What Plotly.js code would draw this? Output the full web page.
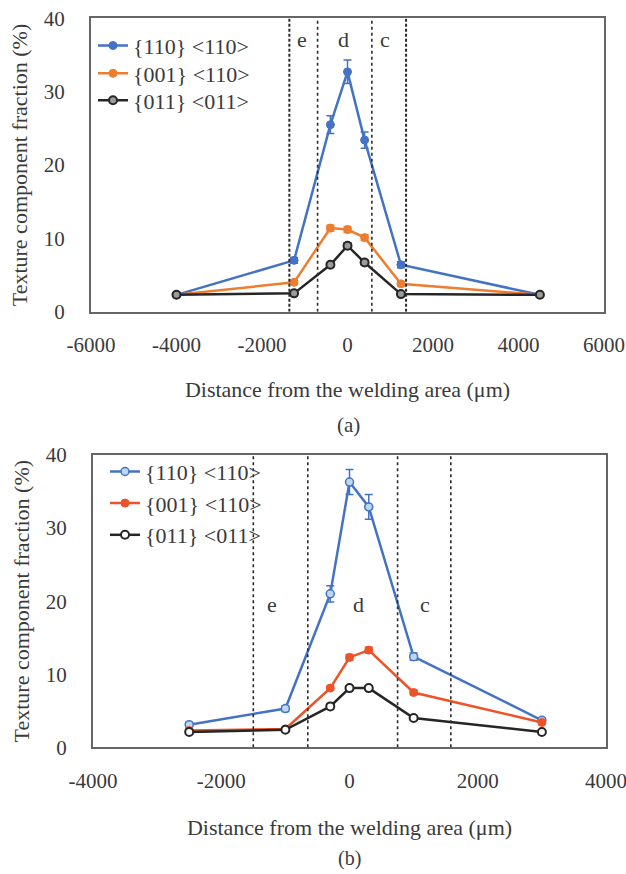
<!DOCTYPE html>
<html>
<head>
<meta charset="utf-8">
<script src="https://cdn.plot.ly/plotly-3.0.1.min.js"></script>
<style>html,body{margin:0;padding:0;background:#fff;}#chart{width:626px;height:874px;}</style>
</head>
<body>
<div id="chart"></div>
<script>
// ---- data: panel (a) ----
const xA = [-4000, -1250, -400, 0, 400, 1250, 4500];
const blueA = [2.3, 7.0, 25.5, 32.7, 23.4, 6.4, 2.3];
const blueErrA = [0.2, 0.4, 1.2, 1.6, 1.1, 0.4, 0.2];
const orangeA = [2.3, 4.0, 11.4, 11.2, 10.1, 3.8, 2.3];
const orangeErrA = [0.2, 0.3, 0.4, 0.4, 0.4, 0.3, 0.2];
const blackA = [2.3, 2.5, 6.4, 9.0, 6.7, 2.4, 2.3];
const blackErrA = [0.2, 0.2, 0.3, 0.4, 0.3, 0.2, 0.2];
const zoneLinesA = [-1360, -700, 570, 1370];
const zoneLabelsA = ["e", "d", "c"];
const zoneLabelXA = [-1070, -100, 880];
const zoneLabelYA = 37.1;

// ---- data: panel (b) ----
const xB = [-2500, -1000, -300, 0, 300, 1000, 3000];
const blueB = [3.1, 5.3, 21.0, 36.3, 32.9, 12.4, 3.7];
const blueErrB = [0.3, 0.4, 1.1, 1.7, 1.7, 0.5, 0.3];
const orangeB = [2.3, 2.5, 8.1, 12.3, 13.3, 7.5, 3.4];
const orangeErrB = [0.2, 0.2, 0.3, 0.4, 0.4, 0.3, 0.2];
const blackB = [2.1, 2.4, 5.6, 8.1, 8.1, 4.0, 2.1];
const blackErrB = [0.2, 0.2, 0.3, 0.3, 0.3, 0.2, 0.2];
const zoneLinesB = [-1500, -650, 750, 1580];
const zoneLabelsB = ["e", "d", "c"];
const zoneLabelXB = [-1210, 140, 1180];
const zoneLabelYB = 19.5;

const seriesNames = ["{110} <110>", "{001} <110>", "{011} <011>"];
const xTicksA = [-6000, -4000, -2000, 0, 2000, 4000, 6000];
const xTicksB = [-4000, -2000, 0, 2000, 4000];
const yTicks = [0, 10, 20, 30, 40];

const FONT = '"Liberation Serif", "Times New Roman", serif';
const TXT = '#3a3a3a';
const BLUE = '#4472C4', ORANGE = '#ED7D31', RED = '#EE5228', BLACK = '#262626';

function tr(x, y, err, name, color, marker, xa, ya, leg) {
  return {
    x: x, y: y, name: name, type: 'scatter', mode: 'lines+markers',
    xaxis: xa, yaxis: ya, legend: leg,
    line: {color: color, width: 2.5},
    marker: marker,
    error_y: {type: 'data', array: err, visible: true, color: color, thickness: 1.5, width: 4}
  };
}

const traces = [
  tr(xA, blueA, blueErrA, seriesNames[0], BLUE, {symbol: 'circle', size: 8, color: BLUE, line: {color: BLUE, width: 1}}, 'x', 'y', 'legend'),
  tr(xA, orangeA, orangeErrA, seriesNames[1], ORANGE, {symbol: 'circle', size: 8, color: ORANGE, line: {color: ORANGE, width: 1}}, 'x', 'y', 'legend2'),
  tr(xA, blackA, blackErrA, seriesNames[2], BLACK, {symbol: 'circle', size: 8, color: '#9a9a9a', line: {color: BLACK, width: 2}}, 'x', 'y', 'legend3'),
  tr(xB, blueB, blueErrB, seriesNames[0], BLUE, {symbol: 'circle', size: 8, color: '#BDD7EE', line: {color: BLUE, width: 1.5}}, 'x2', 'y2', 'legend4'),
  tr(xB, orangeB, orangeErrB, seriesNames[1], RED, {symbol: 'circle', size: 8, color: RED, line: {color: RED, width: 1}}, 'x2', 'y2', 'legend5'),
  tr(xB, blackB, blackErrB, seriesNames[2], BLACK, {symbol: 'circle', size: 8, color: '#ffffff', line: {color: BLACK, width: 2}}, 'x2', 'y2', 'legend6')
];

const W = 626, H = 874;
const px = v => v / W, py = v => 1 - v / H;

function xaxis(range, ticks, domain, standoff) {
  return {
    domain: domain, range: range, tickvals: ticks, ticktext: ticks.map(String),
    showgrid: false, zeroline: false, ticks: '', showline: true, mirror: true,
    linecolor: '#666666', linewidth: 2, ticklabeloverflow: 'allow',
    tickfont: {family: FONT, size: 21, color: TXT}, ticklabelstandoff: 13,
    title: {text: 'Distance from the welding area (μm)', font: {family: FONT, size: 22, color: TXT}, standoff: standoff},
    automargin: false, fixedrange: true
  };
}
function yaxis(domain, anchor) {
  return {
    domain: domain, range: [0, 40], tickvals: yTicks, ticktext: yTicks.map(String), anchor: anchor,
    showgrid: false, zeroline: false, ticks: '', showline: true, mirror: true,
    linecolor: '#666666', linewidth: 2,
    tickfont: {family: FONT, size: 21, color: TXT}, ticklabelstandoff: 20,
    title: {text: 'Texture component fraction (%)', font: {family: FONT, size: 22, color: TXT}, standoff: 10},
    automargin: false, fixedrange: true
  };
}

const shapes = [];
zoneLinesA.forEach((v, i) => shapes.push({
  type: 'line', xref: 'x', yref: 'y', x0: v, x1: v, y0: 0, y1: 40,
  line: {color: '#2a2a2a', width: (i === 0 || i === 3) ? 2 : 1.6, dash: (i === 0 || i === 3) ? '3px,2px' : 'dot'}
}));
zoneLinesB.forEach(v => shapes.push({
  type: 'line', xref: 'x2', yref: 'y2', x0: v, x1: v, y0: 0, y1: 40,
  line: {color: '#2a2a2a', width: 1.6, dash: 'dot'}
}));

const annotations = [];
zoneLabelsA.forEach((t, i) => annotations.push({
  text: t, xref: 'x', yref: 'y', x: zoneLabelXA[i], y: zoneLabelYA, showarrow: false,
  font: {family: FONT, size: 22, color: TXT}
}));
zoneLabelsB.forEach((t, i) => annotations.push({
  text: t, xref: 'x2', yref: 'y2', x: zoneLabelXB[i], y: zoneLabelYB, showarrow: false,
  font: {family: FONT, size: 22, color: TXT}
}));
annotations.push({text: '(a)', xref: 'paper', yref: 'paper', x: px(348), y: py(425), showarrow: false,
  xanchor: 'center', yanchor: 'middle', font: {family: FONT, size: 21, color: TXT}});
annotations.push({text: '(b)', xref: 'paper', yref: 'paper', x: px(349), y: py(872), showarrow: false,
  xanchor: 'center', yanchor: 'bottom', font: {family: FONT, size: 20, color: TXT}});

function leg(xPix, yPix) {
  return {
    font: {family: FONT, size: 22, color: TXT}, bgcolor: 'rgba(0,0,0,0)', borderwidth: 0,
    xanchor: 'left', yanchor: 'middle', x: px(xPix), y: py(yPix), itemwidth: 30
  };
}

const layout = {
  width: W, height: H, margin: {l: 0, r: 0, t: 0, b: 0},
  paper_bgcolor: '#ffffff', plot_bgcolor: '#ffffff', showlegend: true,
  xaxis: xaxis([-6000, 6000], xTicksA, [px(91), px(604)], 26),
  yaxis: yaxis([py(311.7), py(18.3)], 'x'),
  xaxis2: Object.assign(xaxis([-4000, 4000], xTicksB, [px(93), px(606)], 28), {anchor: 'y2'}),
  yaxis2: yaxis([py(747.3), py(455)], 'x2'),
  legend: leg(93, 45.7),
  legend2: leg(93, 73.5),
  legend3: leg(93, 100.5),
  legend4: leg(105, 471.7),
  legend5: leg(105, 503.3),
  legend6: leg(105, 535),
  shapes: shapes, annotations: annotations
};

Plotly.newPlot('chart', traces, layout, {displayModeBar: false, staticPlot: true});
</script>
</body>
</html>
